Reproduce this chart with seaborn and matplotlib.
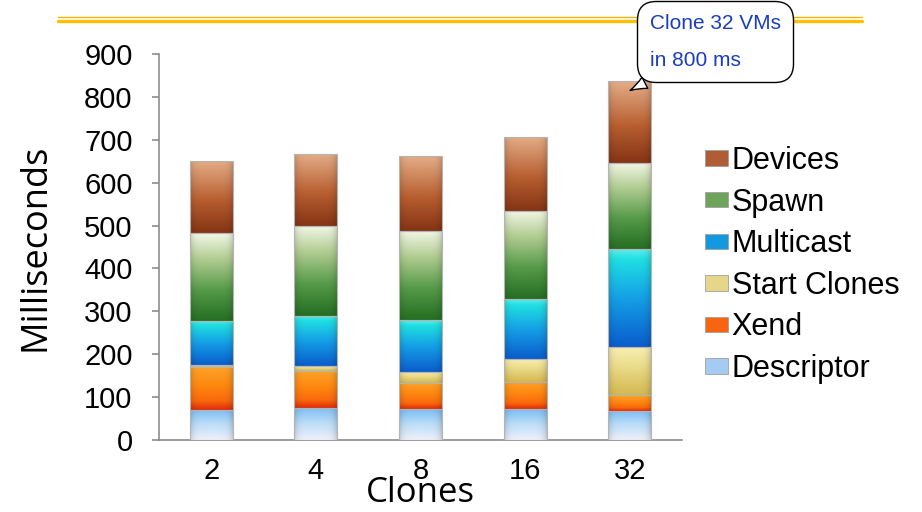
import numpy as np
import pandas as pd
import seaborn as sns
import matplotlib
matplotlib.use("Agg")
import matplotlib.pyplot as plt
from matplotlib.colors import to_rgb
from matplotlib.patches import Patch, Rectangle
from matplotlib.lines import Line2D

# Clone timing breakdown (ms) per number of clones
clones = ["2", "4", "8", "16", "32"]
descriptor = [70, 75, 72, 72, 68]
xend = [100, 86, 61, 64, 37]
start_clones = [5, 11, 26, 54, 113]
multicast = [103, 117, 121, 138, 227]
spawn = [204, 210, 208, 206, 201]
devices = [168, 168, 174, 173, 191]

series_names = ["Descriptor", "Xend", "Start Clones", "Multicast", "Spawn", "Devices"]
series_values = [descriptor, xend, start_clones, multicast, spawn, devices]

# colour stops (position from bottom, colour) of each segment's shading
gradients = {
    "Descriptor": [(0.0, "#f0f0fa"), (0.55, "#b8dcf8"), (1.0, "#7cbcf4")],
    "Xend": [(0.0, "#e02a0a"), (0.22, "#fa6a0c"), (0.6, "#ff8a10"), (1.0, "#ffa22a")],
    "Start Clones": [(0.0, "#d4b850"), (0.6, "#ecdc8c"), (1.0, "#f8f0b6")],
    "Multicast": [(0.0, "#0a5ccc"), (0.5, "#14a0e6"), (0.9, "#20e0e2"), (1.0, "#60ecec")],
    "Spawn": [(0.0, "#246e22"), (0.35, "#559a48"), (0.7, "#b0cc90"), (1.0, "#f4f8e8")],
    "Devices": [(0.0, "#843414"), (0.45, "#b85e30"), (1.0, "#e4ae88")],
}
legend_colour = {
    "Descriptor": "#a4ccf2",
    "Xend": "#f86410",
    "Start Clones": "#e6d68a",
    "Multicast": "#1498e0",
    "Spawn": "#6ea45c",
    "Devices": "#b05c34",
}

df = pd.DataFrame({"Clones": clones})
for name, vals in zip(series_names, series_values):
    df[name] = vals

sns.set_theme(style="white")
plt.rcParams["font.family"] = ["Liberation Sans", "DejaVu Sans"]
plt.rcParams["text.color"] = "black"
plt.rcParams["axes.labelcolor"] = "black"
plt.rcParams["xtick.color"] = "black"
plt.rcParams["ytick.color"] = "black"

W, H = 922, 512
fig = plt.figure(figsize=(W / 100, H / 100), dpi=100)
ax = fig.add_axes([159 / W, 1 - 440 / H, (682 - 159) / W, (440 - 54) / H])

bottom = np.zeros(len(clones))
for name in series_names:
    sns.barplot(data=df, x="Clones", y=name, order=clones, ax=ax,
                color=legend_colour[name], width=0.41, bottom=bottom.copy(),
                linewidth=0, errorbar=None, zorder=2)
    bottom += df[name].to_numpy()


def shade(stops, n=256):
    pos = np.array([s[0] for s in stops])
    cols = np.array([to_rgb(s[1]) for s in stops])
    t = np.linspace(0, 1, n)
    return np.stack([np.interp(t, pos, cols[:, k]) for k in range(3)], axis=1)


# shaded fill for every segment, clipped to its bar
tx = np.linspace(0, 1, 64)[None, :]
edge_shade = 1 - 0.16 * (np.abs(tx - 0.5) * 2) ** 6
for cont, name in zip(ax.containers, series_names):
    col = shade(gradients[name])
    img = np.clip(col[:, None, :] * edge_shade[..., None], 0, 1)
    for p in cont:
        x0, y0, w, h = p.get_x(), p.get_y(), p.get_width(), p.get_height()
        im = ax.imshow(img, extent=[x0, x0 + w, y0, y0 + h], origin="lower",
                       aspect="auto", interpolation="bilinear", zorder=3)
        im.set_clip_path(p)
        ax.add_patch(Rectangle((x0, y0), w, h, fill=False, ec="#b4b4b4",
                               lw=0.8, zorder=4))

ax.set_xlim(-0.5, len(clones) - 0.5)
ax.set_ylim(0, 900)
ax.set_aspect("auto")
ax.set_yticks(range(0, 901, 100))

for s in ["top", "right"]:
    ax.spines[s].set_visible(False)
for s in ["left", "bottom"]:
    ax.spines[s].set_color("#8c8c8c")
    ax.spines[s].set_linewidth(1.2)
ax.tick_params(axis="y", which="major", left=True, length=5, width=1.2,
               color="#8c8c8c", labelsize=21, pad=14)
ax.tick_params(axis="x", bottom=False, labelsize=21, pad=6)

ax.set_ylabel("Milliseconds", fontsize=26, family=["Open Sans", "DejaVu Sans"],
              labelpad=22)
ax.set_xlabel("Clones", fontsize=25, family=["Open Sans", "DejaVu Sans"],
              labelpad=-6)

# legend, top entry first
handles = [Patch(facecolor=legend_colour[nm], edgecolor="#a0a0a0", lw=0.6)
           for nm in series_names[::-1]]
fig.legend(handles, series_names[::-1], loc="upper left",
           bbox_to_anchor=(705 / W, 1 - 146 / H), frameon=False,
           fontsize=22, handlelength=0.75, handleheight=0.4,
           handletextpad=0.12, labelspacing=0.38, borderaxespad=0,
           borderpad=0)

# gold rule across the top
fig.add_artist(Line2D([58 / W, 862 / W], [1 - 17 / H] * 2, color="#f2b400",
                      lw=1.0, zorder=-1))
fig.add_artist(Line2D([58 / W, 862 / W], [1 - 20.5 / H] * 2, color="#ffc000",
                      lw=2.4, zorder=-1))

# callout on the 32-clone bar
total32 = bottom[-1]
ax.annotate("Clone 32 VMs\nin 800 ms", xy=(3.98, total32 - 25),
            xytext=(650, H - 42), textcoords="figure pixels",
            ha="left", va="center", fontsize=15, color="#1a3cc0",
            linespacing=2.2, annotation_clip=False, zorder=10,
            bbox=dict(boxstyle="round,pad=0.6,rounding_size=0.9",
                      fc="white", ec="black", lw=1.0),
            arrowprops=dict(arrowstyle="wedge,tail_width=0.6,shrink_factor=0.4",
                            fc="white", ec="black", lw=1.0,
                            relpos=(0.15, 0.0)))

fig.savefig("out.png", dpi=100)
